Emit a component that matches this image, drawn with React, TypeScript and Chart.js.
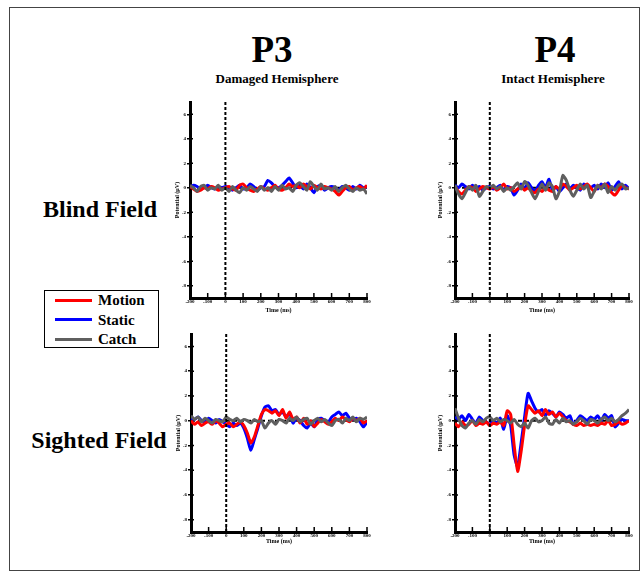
import React, { useEffect, useRef } from 'react';
import { Chart, registerables } from 'chart.js';

Chart.register(...registerables);

// ---------- data ----------
const times = [
  -200, -180, -160, -140, -120, -100, -80, -60, -40, -20,
  0, 20, 40, 60, 80, 100, 120, 140, 160, 180,
  200, 220, 240, 260, 280, 300, 320, 340, 360, 380,
  400, 420, 440, 460, 480, 500, 520, 540, 560, 580,
  600, 620, 640, 660, 680, 700, 720, 740, 760, 780, 800,
];

const yTickValues = [-8, -6, -4, -2, 0, 2, 4, 6];
const seriesNames = ['Motion', 'Static', 'Catch'];
const seriesColors = ['#ff0000', '#0000ff', '#5f5f5f'];
// drawing order: Catch underneath, then Motion, then Static on top
const drawOrder = [2, 0, 1];

// P3 (Damaged Hemisphere) - Blind Field
const p3BlindMotion = [
  0.1, -0.1, -0.3, -0.2, 0.0, -0.1, 0.1, 0.0, -0.2, -0.1,
  0.0, 0.1, -0.1, -0.2, 0.2, 0.3, 0.0, -0.2, -0.3, -0.1,
  0.1, -0.1, -0.2, 0.0, 0.2, -0.1, -0.2, 0.0, 0.3, 0.1,
  0.2, 0.0, 0.3, 0.1, -0.1, 0.2, 0.0, -0.1, 0.1, 0.0,
  -0.1, -0.3, -0.6, -0.3, 0.0, 0.1, -0.2, 0.0, 0.1, -0.1, 0.2,
];
const p3BlindStatic = [
  0.0, 0.2, 0.1, -0.1, 0.0, 0.2, 0.0, -0.1, 0.1, 0.0,
  0.1, 0.0, -0.2, 0.0, 0.2, -0.1, 0.0, 0.3, 0.1, -0.2,
  0.0, 0.1, 0.6, 0.4, 0.1, 0.0, 0.2, 0.5, 0.8, 0.4,
  0.0, 0.2, -0.1, 0.3, 0.0, -0.4, 0.1, 0.2, -0.2, 0.0,
  0.1, 0.0, -0.2, 0.1, 0.0, -0.2, 0.1, -0.1, 0.2, 0.0, 0.1,
];
const p3BlindCatch = [
  0.2, 0.0, -0.3, 0.1, 0.2, -0.2, 0.0, -0.1, 0.2, -0.2,
  0.0, -0.3, 0.1, -0.2, -0.4, 0.0, -0.2, 0.1, -0.1, -0.3,
  0.1, -0.2, 0.0, -0.3, 0.1, -0.2, 0.2, -0.1, 0.0, -0.3,
  0.2, 0.4, 0.1, -0.2, 0.5, 0.1, -0.2, 0.3, -0.1, 0.0,
  -0.2, 0.1, -0.3, 0.0, 0.2, -0.1, -0.3, 0.0, -0.2, -0.1, -0.5,
];

// P4 (Intact Hemisphere) - Blind Field
const p4BlindMotion = [
  0.1, -0.3, -0.5, -0.2, 0.1, 0.0, -0.3, -0.1, 0.1, 0.0,
  -0.1, 0.1, -0.2, 0.0, 0.3, -0.1, 0.0, -0.3, -0.1, 0.1,
  -0.2, 0.0, -0.3, -0.4, -0.1, -0.3, 0.0, -0.2, -0.3, 0.1,
  -0.1, 0.3, 0.1, -0.2, 0.0, 0.2, -0.1, 0.1, 0.3, 0.0,
  -0.3, 0.2, 0.0, 0.3, 0.1, -0.4, -0.6, -0.2, 0.2, 0.0, -0.1,
];
const p4BlindStatic = [
  0.2, 0.0, 0.3, 0.1, -0.1, 0.2, 0.0, 0.1, -0.2, 0.0,
  0.1, -0.1, 0.0, 0.2, -0.2, 0.1, 0.0, -0.6, -0.2, 0.3,
  -0.1, 0.4, 0.0, -0.3, 0.2, 0.5, 0.0, 0.7, -0.2, 0.1,
  -0.3, 0.0, 0.3, -0.1, 0.2, 0.0, -0.2, 0.3, 0.1, 0.0,
  0.2, -0.1, 0.3, 0.0, 0.4, -0.2, 0.1, 0.5, -0.1, 0.2, -0.1,
];
const p4BlindCatch = [
  0.2, -0.5, -0.9, -0.4, 0.1, -0.2, 0.2, -0.7, -0.3, 0.1,
  0.0, 0.2, -0.1, 0.1, -0.3, 0.0, -0.2, 0.1, 0.4, -0.1,
  0.5, 0.2, -0.4, -0.9, -0.3, 0.3, -0.2, 0.4, 0.1, -0.9,
  -0.3, 1.0, 0.6, -0.2, -0.7, -0.2, 0.3, -0.1, 0.2, -0.8,
  -0.3, 0.2, -0.1, 0.3, -0.4, 0.1, -0.2, 0.2, 0.3, -0.1, 0.0,
];

// P3 (Damaged Hemisphere) - Sighted Field
const p3SightedMotion = [
  0.0, -0.3, -0.1, -0.4, -0.2, -0.1, -0.3, 0.0, -0.2, -0.5,
  -0.3, -0.2, -0.5, -0.3, -0.1, -0.4, -1.0, -1.8, -1.3, -0.4,
  0.5, 0.9, 0.8, 0.6, 0.8, 0.4, 0.9, 0.2, 0.7, 0.1,
  0.3, -0.2, 0.2, -0.3, 0.0, -0.5, -0.2, 0.1, -0.1, -0.3,
  -0.1, 0.2, 0.0, 0.3, 0.1, -0.1, 0.2, 0.0, 0.2, -0.2, 0.0,
];
const p3SightedStatic = [
  0.2, 0.1, 0.3, 0.0, -0.1, 0.2, 0.0, -0.2, 0.1, -0.1,
  -0.3, -0.5, -0.2, -0.4, -0.2, -0.6, -1.4, -2.4, -1.5, -0.6,
  0.4, 1.1, 1.2, 0.8, 0.9, 0.5, 0.7, 0.3, 0.6, -0.2,
  0.2, 0.0, -0.4, -0.6, -0.2, -0.5, 0.1, 0.2, 0.0, -0.1,
  0.3, 0.5, 0.7, 0.4, 0.6, 0.2, 0.1, 0.2, -0.1, -0.5, -0.1,
];
const p3SightedCatch = [
  0.4, 0.1, 0.3, -0.1, 0.2, 0.0, -0.2, 0.1, 0.0, -0.1,
  0.3, 0.1, 0.0, 0.2, -0.1, 0.1, 0.0, -0.2, 0.1, -0.1,
  0.0, -0.6, -0.2, 0.0, -0.3, 0.1, 0.0, -0.2, 0.2, 0.0,
  0.3, -0.1, 0.1, 0.2, -0.3, 0.0, 0.2, -0.1, 0.1, -0.2,
  -0.4, 0.0, 0.1, -0.2, 0.2, 0.0, 0.3, -0.1, 0.2, 0.1, 0.3,
];

// P4 (Intact Hemisphere) - Sighted Field
const p4SightedMotion = [
  -0.2, -0.5, -0.1, -0.4, -0.3, 0.0, -0.4, -0.2, -0.3, -0.1,
  -0.4, -0.2, -0.3, -0.1, -0.4, 0.8, 0.5, -2.0, -4.1, -2.5,
  -0.4, 1.2, 0.9, 0.6, 0.8, 0.4, 0.9, 0.5, 0.7, 0.3,
  0.6, 0.3, 0.0, -0.1, -0.3, -0.4, -0.2, -0.4, -0.3, -0.4,
  -0.3, -0.4, -0.2, -0.3, 0.0, -0.4, -0.3, -0.1, -0.3, -0.2, 0.0,
];
const p4SightedStatic = [
  0.3, 0.1, 0.4, 0.0, 0.5, 0.1, -0.2, 0.3, 0.0, -0.1,
  -0.3, 0.0, -0.2, 0.2, -0.7, 0.4, -0.4, -2.8, -3.7, -1.8,
  0.3, 2.2, 1.6, 1.0, 0.7, 0.9, 0.4, 0.8, 0.6, 0.3,
  0.7, 0.5, 0.2, 0.4, -0.3, 0.0, 0.4, 0.2, 0.0, 0.3,
  0.1, 0.4, 0.0, 0.5, 0.2, 0.4, -0.5, -0.2, 0.1, 0.0, 0.0,
];
const p4SightedCatch = [
  1.0, 0.2, -0.4, -0.6, -0.2, 0.0, -0.3, 0.1, -0.1, 0.2,
  0.3, 0.0, 0.2, -0.1, 0.1, 0.0, -0.2, 0.1, -0.3, -0.5,
  -0.2, -0.6, 0.0, 0.2, -0.1, 0.0, 0.3, -0.2, -0.3, 0.1,
  -0.2, 0.2, -0.1, 0.0, -0.3, -0.1, 0.2, 0.0, -0.3, 0.1,
  0.0, -0.2, 0.1, 0.3, 0.0, 0.2, -0.1, 0.1, 0.4, 0.6, 0.9,
];

// ---------- drawing ----------
const FONT = "'Liberation Serif', 'DejaVu Serif', serif";

const decorPlugin = {
  id: 'decor',
  beforeDatasetsDraw(chart: any) {
    const { ctx, chartArea, scales } = chart;
    const x = scales.x;
    const y = scales.y;
    ctx.save();
    ctx.strokeStyle = '#000';
    ctx.lineWidth = 2;
    ctx.setLineDash([4, 3]);
    const y0 = y.getPixelForValue(0);
    ctx.beginPath();
    ctx.moveTo(chartArea.left, y0);
    ctx.lineTo(chartArea.right, y0);
    ctx.stroke();
    ctx.setLineDash([]);
    ctx.lineWidth = 1.5;
    ctx.beginPath();
    x.ticks.forEach((t: any) => {
      const px = x.getPixelForValue(t.value);
      ctx.moveTo(px, chartArea.bottom);
      ctx.lineTo(px, chartArea.bottom - 5);
    });
    y.ticks.forEach((t: any) => {
      const py = y.getPixelForValue(t.value);
      ctx.moveTo(chartArea.left, py);
      ctx.lineTo(chartArea.left + 3, py);
    });
    ctx.stroke();
    ctx.restore();
  },
  afterDatasetsDraw(chart: any) {
    const { ctx, chartArea, scales } = chart;
    const x0 = scales.x.getPixelForValue(0);
    ctx.save();
    ctx.strokeStyle = '#000';
    ctx.lineWidth = 2;
    ctx.setLineDash([3, 2]);
    ctx.beginPath();
    ctx.moveTo(x0, chartArea.top);
    ctx.lineTo(x0, chartArea.bottom);
    ctx.stroke();
    ctx.restore();
  },
};

type PanelProps = {
  left: number;
  top: number;
  width: number;
  height: number;
  padTop: number;
  padRight: number;
  yW: number;
  xH: number;
  series: number[][];
};

function Panel(p: PanelProps) {
  const ref = useRef<HTMLCanvasElement | null>(null);
  useEffect(() => {
    if (!ref.current) return;
    const chart = new Chart(ref.current, {
      type: 'line',
      data: {
        datasets: drawOrder.map((i) => ({
          label: seriesNames[i],
          data: times.map((t, k) => ({ x: t, y: p.series[i][k] })),
          borderColor: seriesColors[i],
          backgroundColor: seriesColors[i],
          borderWidth: 3,
          pointRadius: 0,
          tension: 0.2,
          fill: false,
        })),
      },
      options: {
        animation: false,
        responsive: false,
        devicePixelRatio: 1,
        layout: { padding: { left: 0, top: p.padTop, right: p.padRight, bottom: 0 } },
        plugins: { legend: { display: false }, tooltip: { enabled: false }, title: { display: false } },
        scales: {
          x: {
            type: 'linear',
            min: -200,
            max: 800,
            afterFit: (s: any) => {
              s.height = p.xH;
            },
            ticks: {
              stepSize: 100,
              autoSkip: false,
              maxRotation: 0,
              padding: 1,
              color: '#000',
              font: { family: FONT, size: 5, weight: 'bold' },
            },
            grid: { display: true, drawOnChartArea: false, drawTicks: false },
            border: { display: true, width: 3, color: '#000' },
            title: {
              display: true,
              text: 'Time (ms)',
              color: '#000',
              padding: 0,
              font: { family: FONT, size: 6, weight: 'bold' },
            },
          },
          y: {
            type: 'linear',
            min: -9,
            max: 7,
            afterFit: (s: any) => {
              s.width = p.yW;
            },
            afterBuildTicks: (s: any) => {
              s.ticks = yTickValues.map((v) => ({ value: v }));
            },
            ticks: {
              autoSkip: false,
              padding: 1,
              color: '#000',
              font: { family: FONT, size: 5, weight: 'bold' },
            },
            grid: { display: true, drawOnChartArea: false, drawTicks: true, tickLength: 3, color: '#000', lineWidth: 1.5 },
            border: { display: true, width: 3, color: '#000' },
            title: {
              display: true,
              text: 'Potential (µV)',
              color: '#000',
              padding: 0,
              font: { family: FONT, size: 6, weight: 'bold' },
            },
          },
        },
      },
      plugins: [decorPlugin],
    } as any);
    return () => chart.destroy();
  }, []);
  return (
    <canvas
      ref={ref}
      width={p.width}
      height={p.height}
      style={{ position: 'absolute', left: p.left, top: p.top, width: p.width, height: p.height }}
    />
  );
}

function Label(props: { x: number; y: number; size: number; text: string }) {
  return (
    <div
      style={{
        position: 'absolute',
        left: props.x,
        top: props.y,
        transform: 'translate(-50%, -50%)',
        fontFamily: FONT,
        fontWeight: 'bold',
        fontSize: props.size,
        lineHeight: 1,
        whiteSpace: 'nowrap',
        color: '#000',
      }}
    >
      {props.text}
    </div>
  );
}

export default function App() {
  const legendRows = [0, 1, 2];
  return (
    <div style={{ position: 'absolute', left: 0, top: 0, width: 641, height: 573, background: '#fff', overflow: 'hidden' }}>
      <div
        style={{
          position: 'absolute',
          left: 9,
          top: 7,
          width: 629,
          height: 562,
          border: '1.5px solid #444',
        }}
      />
      <Label x={272} y={49} size={37} text="P3" />
      <Label x={277} y={78} size={13} text="Damaged Hemisphere" />
      <Label x={555} y={49} size={37} text="P4" />
      <Label x={553} y={78} size={13} text="Intact Hemisphere" />
      <Label x={100} y={209} size={24} text="Blind Field" />
      <Label x={99} y={440} size={24} text="Sighted Field" />

      <div
        style={{
          position: 'absolute',
          left: 44,
          top: 290,
          width: 113,
          height: 56,
          border: '1px solid #000',
        }}
      />
      {legendRows.map((i) => (
        <React.Fragment key={i}>
          <div
            style={{
              position: 'absolute',
              left: 55,
              top: 300 + i * 19.5 - 1.5,
              width: 37,
              height: 3,
              background: seriesColors[i],
            }}
          />
          <div
            style={{
              position: 'absolute',
              left: 98,
              top: 300 + i * 19.5,
              transform: 'translateY(-50%)',
              fontFamily: FONT,
              fontWeight: 'bold',
              fontSize: 15,
              lineHeight: 1,
              whiteSpace: 'nowrap',
            }}
          >
            {seriesNames[i]}
          </div>
        </React.Fragment>
      ))}

      <Panel left={174} top={95} width={201} height={219} padTop={7} padRight={8} yW={16} xH={16}
        series={[p3BlindMotion, p3BlindStatic, p3BlindCatch]} />
      <Panel left={437} top={95} width={200} height={219} padTop={7} padRight={8} yW={18} xH={16}
        series={[p4BlindMotion, p4BlindStatic, p4BlindCatch]} />
      <Panel left={175} top={327} width={200} height={218} padTop={7} padRight={8} yW={16} xH={13}
        series={[p3SightedMotion, p3SightedStatic, p3SightedCatch]} />
      <Panel left={437} top={327} width={200} height={218} padTop={7} padRight={8} yW={18} xH={13}
        series={[p4SightedMotion, p4SightedStatic, p4SightedCatch]} />
    </div>
  );
}
